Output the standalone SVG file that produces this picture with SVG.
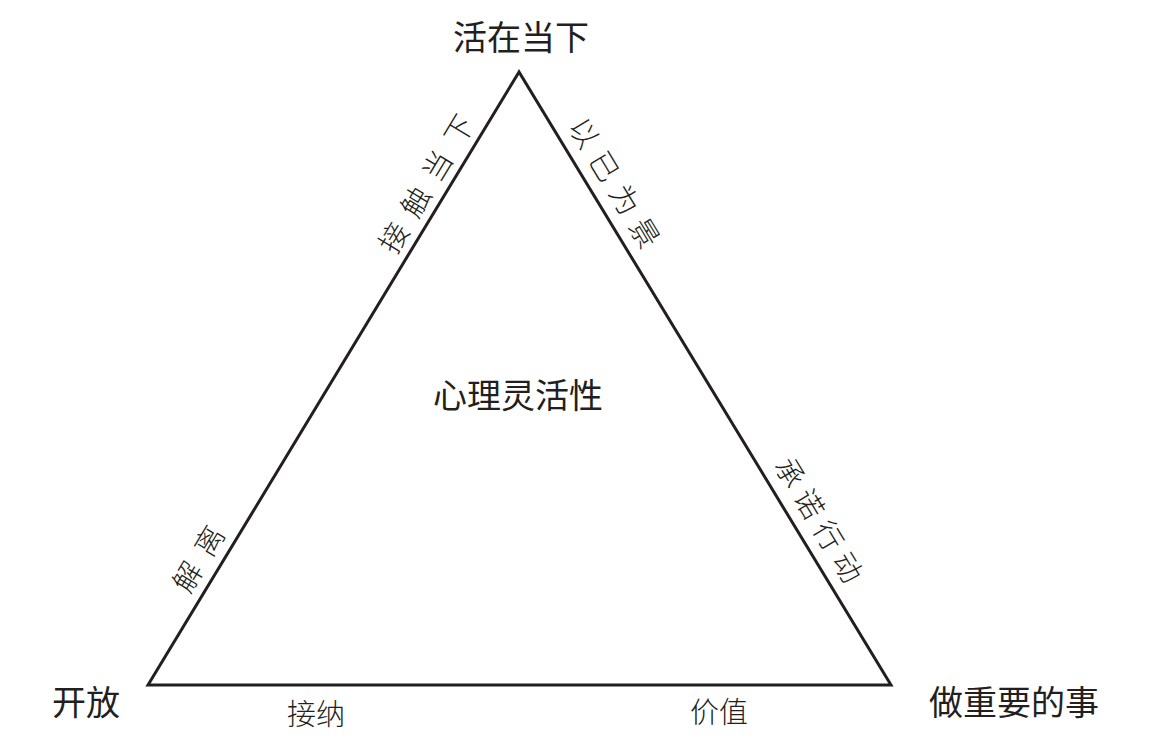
<svg xmlns="http://www.w3.org/2000/svg" width="1152" height="744" viewBox="0 0 1152 744">
<style>
.main{font-family:"Noto Sans CJK SC","Noto Sans",sans-serif;font-size:34px;font-weight:400;fill:#231f20;text-anchor:middle;dominant-baseline:central}
.edge{font-family:"Noto Sans CJK SC","Noto Sans",sans-serif;font-size:29px;font-weight:300;fill:#231f20;text-anchor:middle;dominant-baseline:central}
</style>
<rect width="1152" height="744" fill="#fff"/>
<g id="connectors">
<polygon points="519,72 148,685 891,685" fill="none" stroke="#231f20" stroke-width="3" stroke-linejoin="miter"/>
</g>
<g id="top"><text class="main" x="521" y="35">活在当下</text></g>
<g id="center"><text class="main" x="518" y="393">心理灵活性</text></g>
<g id="left"><text class="main" x="86" y="700">开放</text></g>
<g id="right"><text class="main" x="1014" y="700">做重要的事</text></g>
<g id="e1"><text class="edge" transform="translate(428,177) rotate(-58.8)" letter-spacing="13">接触当下</text></g>
<g id="e2"><text class="edge" transform="translate(619,186) rotate(58.8)" letter-spacing="10">以已为景</text></g>
<g id="e3"><text class="edge" transform="translate(200,552) rotate(-58.8)" letter-spacing="13">解离</text></g>
<g id="e4"><text class="edge" transform="translate(823,522) rotate(58.8)" letter-spacing="8">承诺行动</text></g>
<g id="b1"><text class="edge" x="316" y="712">接纳</text></g>
<g id="b2"><text class="edge" x="719" y="710">价值</text></g>
</svg>
